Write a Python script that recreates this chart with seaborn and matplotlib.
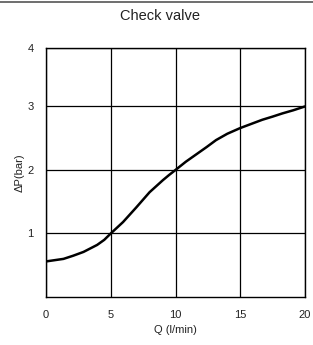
import pandas as pd
import matplotlib
matplotlib.use("Agg")
import matplotlib.pyplot as plt
import seaborn as sns

# values
flow = [0, 1.35, 2.1, 2.9, 3.95, 4.5, 5, 5.95, 6.97, 8.0, 9.03, 9.5, 10,
        10.8, 11.6, 12.4, 13.13, 14.0, 15.0, 16.7, 17.5, 18.25, 19.1, 20]
dp = [0.56, 0.60, 0.65, 0.71, 0.82, 0.90, 1.0, 1.18, 1.41, 1.65, 1.84, 1.92, 2.0,
      2.13, 2.245, 2.36, 2.47, 2.57, 2.66, 2.79, 2.84, 2.89, 2.94, 3.0]
x_ticks = [0, 5, 10, 15, 20]
y_ticks = [1, 2, 3, 4]

sns.set_theme(style="white")
plt.rcParams['font.family'] = ['Liberation Sans', 'DejaVu Sans']

df = pd.DataFrame({'Q': flow, 'dP': dp})

fig = plt.figure(figsize=(3.13, 3.45), dpi=100)
ax = fig.add_axes([46 / 313, 48 / 345, 259 / 313, 249 / 345])
sns.lineplot(data=df, x='Q', y='dP', ax=ax, color='black', linewidth=1.8)

ax.set_xlim(0, 20)
ax.set_ylim(0, 3.92)
ax.set_xticks(x_ticks)
# top of the box carries the "4" label
ax.set_yticks([1, 2, 3, 3.92])
ax.set_yticklabels([str(v) for v in y_ticks])
ax.grid(True, color='black', linewidth=0.9)
for s in ax.spines.values():
    s.set_color('black')
    s.set_linewidth(1.0)
ax.tick_params(length=0, labelsize=8, colors='#222222', pad=9)
ax.set_xlabel('Q (l/min)', fontsize=8, color='#222222', labelpad=4)
ax.set_ylabel('ΔP(bar)', fontsize=8, color='#222222', labelpad=2)

fig.text(0.51, 0.955, 'Check valve', ha='center', va='center', fontsize=10.5,
         color='#222222', fontstretch='condensed')
fig.add_artist(plt.Line2D([0, 1], [0.994, 0.994], color='#555555', linewidth=1.2,
                          transform=fig.transFigure))

fig.savefig('out.png', dpi=100)
